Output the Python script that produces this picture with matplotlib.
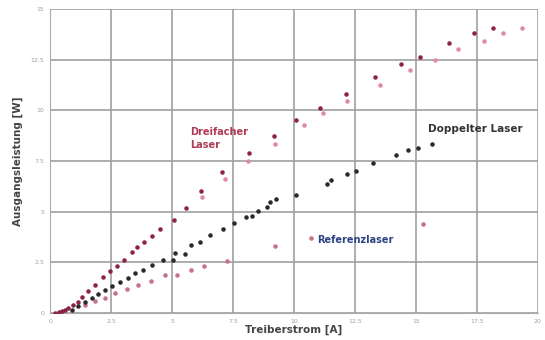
import matplotlib.pyplot as plt
import numpy as np

# Dreifacher Laser (dark + light measurements)
tri_x = [0.2, 0.35, 0.48, 0.62, 0.75, 0.95, 1.16, 1.32, 1.57, 1.84, 2.18, 2.47, 2.73, 3.03, 3.35, 3.58,
         3.86, 4.17, 4.5, 5.07, 5.57, 6.18, 7.04, 8.16, 9.18, 10.1, 11.05, 12.15, 13.33, 14.4, 15.15,
         16.35, 17.36, 18.15]
tri_y = [0.03, 0.06, 0.1, 0.16, 0.24, 0.39, 0.56, 0.8, 1.1, 1.38, 1.76, 2.07, 2.32, 2.61, 2.99, 3.27,
         3.51, 3.79, 4.17, 4.6, 5.17, 6.03, 6.95, 7.9, 8.72, 9.53, 10.1, 10.8, 11.65, 12.27, 12.65,
         13.3, 13.8, 14.06]
tri2_x = [6.22, 7.17, 8.1, 9.22, 10.4, 11.2, 12.16, 13.54, 14.77, 15.8, 16.74, 17.77, 18.56, 19.36]
tri2_y = [5.74, 6.6, 7.49, 8.36, 9.25, 9.86, 10.48, 11.27, 11.99, 12.5, 13.0, 13.4, 13.8, 14.06]

# Doppelter Laser
dbl_x = [0.9, 1.16, 1.43, 1.71, 1.98, 2.25, 2.53, 2.87, 3.21, 3.48, 3.82, 4.17, 4.64, 5.05, 5.12, 5.53,
         5.77, 6.15, 6.56, 7.1, 7.55, 8.03, 8.27, 8.51, 8.88, 9.02, 9.26, 10.1, 11.34, 11.5, 12.16,
         12.53, 13.25, 14.18, 14.69, 15.07, 15.65]
dbl_y = [0.15, 0.34, 0.56, 0.75, 0.94, 1.13, 1.33, 1.54, 1.74, 1.96, 2.15, 2.36, 2.61, 2.64, 2.94, 2.91,
         3.35, 3.51, 3.84, 4.17, 4.45, 4.75, 4.79, 5.04, 5.24, 5.48, 5.62, 5.81, 6.39, 6.55, 6.88,
         7.0, 7.42, 7.78, 8.03, 8.14, 8.34]

# Referenzlaser
ref_x = [1.43, 1.84, 2.25, 2.66, 3.14, 3.62, 4.14, 4.71, 5.19, 5.76, 6.3, 7.24, 9.2, 10.7, 15.3]
ref_y = [0.39, 0.59, 0.77, 0.97, 1.17, 1.38, 1.59, 1.87, 1.88, 2.12, 2.32, 2.57, 3.32, 3.71, 4.38]

x_ticks = [0, 2.5, 5, 7.5, 10, 12.5, 15, 17.5, 20]
y_ticks = [0, 2.5, 5, 7.5, 10, 12.5, 15]

fig = plt.figure(figsize=(5.45, 3.4), dpi=100)
ax = fig.add_axes([0.092, 0.079, 0.895, 0.895])

ax.scatter(tri2_x, tri2_y, s=5, color='#e08aa0', zorder=3)
ax.scatter(tri_x, tri_y, s=5, color='#8c2345', zorder=3)
ax.scatter(ref_x, ref_y, s=5, color='#c77088', zorder=3)
ax.scatter(dbl_x, dbl_y, s=5, color='#2a2a2a', zorder=3)

ax.text(5.75, 8.6, 'Dreifacher\nLaser', color='#b03a55', fontsize=7, fontweight='bold',
        linespacing=1.3, va='center')
ax.text(15.5, 9.1, 'Doppelter Laser', color='#333333', fontsize=7.5, fontweight='bold', va='center')
ax.text(10.95, 3.6, 'Referenzlaser', color='#2d4383', fontsize=7, fontweight='bold', va='center')

ax.set_xlim(0, 20)
ax.set_ylim(0, 15)
ax.set_xticks(x_ticks)
ax.set_yticks(y_ticks)
ax.set_xticklabels([f'{t:g}' for t in x_ticks])
ax.set_yticklabels([f'{t:g}' for t in y_ticks])
ax.tick_params(labelsize=4.5, colors='#a0a0a0', length=0, pad=4)
ax.grid(True, color='#a0a0a0', linewidth=1.2)
ax.set_axisbelow(True)
for s in ['top', 'right']:
    ax.spines[s].set_visible(False)
for s in ['left', 'bottom']:
    ax.spines[s].set_color('#aaaaaa')

ax.set_xlabel('Treiberstrom [A]', fontsize=7.5, fontweight='bold', color='#444444', labelpad=1)
ax.set_ylabel('Ausgangsleistung [W]', fontsize=7.5, fontweight='bold', color='#444444', labelpad=6)

fig.savefig('out.png', dpi=100)
